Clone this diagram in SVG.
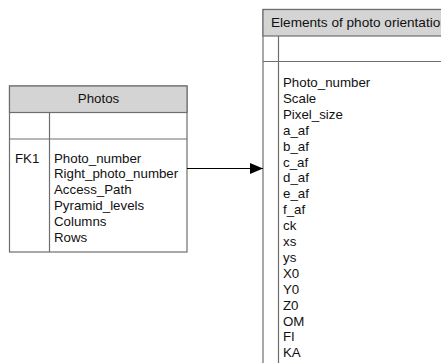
<svg xmlns="http://www.w3.org/2000/svg" width="441" height="363" viewBox="0 0 441 363">
<style>
.box{fill:#ffffff;stroke:#6e6e6e;stroke-width:1.2}
.hdr{fill:#d4d4d4;stroke:#6e6e6e;stroke-width:1.2}
.ln{stroke:#6e6e6e;stroke-width:1.2;fill:none}
text{font-family:"Liberation Sans",Arial,sans-serif;font-size:13.3px;fill:#111}
.conn{stroke:#000;stroke-width:1.2;fill:none}
</style>
<defs>
<marker id="arr" markerWidth="13" markerHeight="12" refX="13" refY="6" orient="auto" markerUnits="userSpaceOnUse">
<path d="M0,0.5 L13,6 L0,11.5 Z" fill="#000"/>
</marker>
</defs>
<g id="photos">
<rect class="box" x="9.5" y="86" width="177.5" height="166"/>
<rect class="hdr" x="9.5" y="86" width="177.5" height="26.5"/>
<line class="ln" x1="9.5" y1="139" x2="187" y2="139"/>
<line class="ln" x1="49.5" y1="112.5" x2="49.5" y2="252"/>
<text x="98.5" y="103" text-anchor="middle">Photos</text>
<text x="15" y="162.5">FK1</text>
<text x="54" y="162.5">Photo_number</text>
<text x="54" y="178.3">Right_photo_number</text>
<text x="54" y="194.1">Access_Path</text>
<text x="54" y="209.9">Pyramid_levels</text>
<text x="54" y="225.7">Columns</text>
<text x="54" y="241.5">Rows</text>
</g>
<g id="orientation">
<rect class="box" x="263" y="9.5" width="200" height="380"/>
<rect class="hdr" x="263" y="9.5" width="200" height="26.5"/>
<line class="ln" x1="263" y1="61.5" x2="463" y2="61.5"/>
<line class="ln" x1="278.5" y1="36" x2="278.5" y2="389"/>
<text x="271" y="27" style="font-size:13.6px">Elements of photo orientation</text>
<text x="283" y="87">Photo_number</text>
<text x="283" y="102.9">Scale</text>
<text x="283" y="118.8">Pixel_size</text>
<text x="283" y="134.7">a_af</text>
<text x="283" y="150.6">b_af</text>
<text x="283" y="166.5">c_af</text>
<text x="283" y="182.4">d_af</text>
<text x="283" y="198.3">e_af</text>
<text x="283" y="214.2">f_af</text>
<text x="283" y="230.1">ck</text>
<text x="283" y="246">xs</text>
<text x="283" y="261.9">ys</text>
<text x="283" y="277.8">X0</text>
<text x="283" y="293.7">Y0</text>
<text x="283" y="309.6">Z0</text>
<text x="283" y="325.5">OM</text>
<text x="283" y="341.4">FI</text>
<text x="283" y="357.3">KA</text>
</g>
<g id="connectors">
<line class="conn" x1="187" y1="168.5" x2="263" y2="168.5" marker-end="url(#arr)"/>
</g>
</svg>
